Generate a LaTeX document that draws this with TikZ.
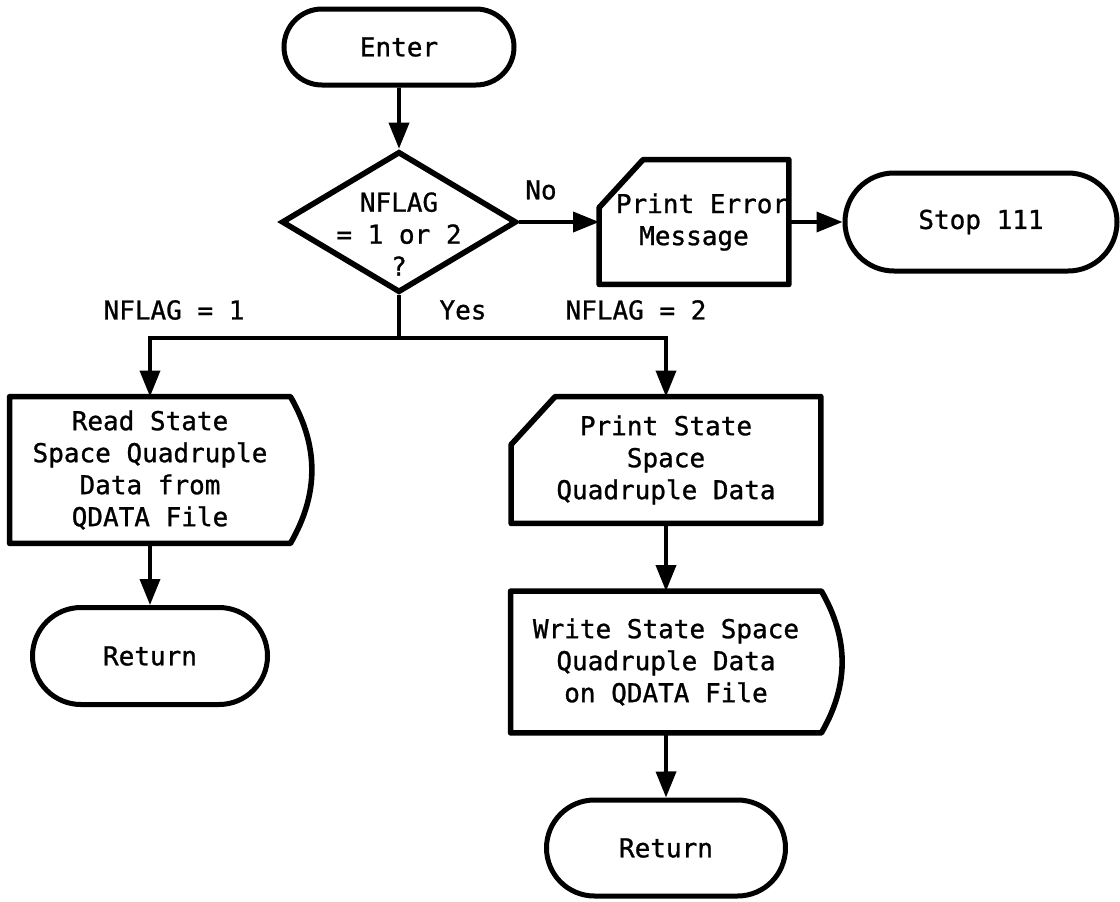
\documentclass[tikz,border=0pt]{standalone}
\usepackage{fontspec}
\setmonofont[FakeBold=1]{DejaVu Sans Mono}
\usepackage{tikz}
\usetikzlibrary{arrows.meta}
\usetikzlibrary{shapes}
\tikzset{
  chart/.style={font=\ttfamily\fontsize{13}{16}\selectfont, align=center},
  terminal/.style={chart, draw, line width=2.5pt, rounded rectangle, inner sep=0pt},
  decision/.style={draw, line width=2.8pt, diamond, inner sep=0pt},
  iobox/.style={chart, rectangle, inner sep=0pt},
  flow/.style={line width=1.8pt, -{Triangle[length=13pt,width=10pt]}},
  wire/.style={line width=1.8pt},
  tag/.style={chart}
}
\newcommand{\cardframe}[1]{ \draw[line width=2.8pt, line join=round] ([yshift=-24pt]#1.north west) -- ([xshift=22pt]#1.north west) -- (#1.north east) -- (#1.south east) -- (#1.south west) -- cycle;}
\newcommand{\storeframe}[1]{ \draw[line width=2.8pt, line join=round] (#1.north west) -- (#1.north east) to[bend left=30] (#1.south east) -- (#1.south west) -- cycle;}

\begin{document}
\begin{tikzpicture}[x=0.5pt,y=-0.5pt]
\useasboundingbox (0,0) rectangle (1120,901);
%
\node[terminal, minimum width=115pt, minimum height=38pt] (enter) at (399,47) {Enter};
\node[decision, minimum width=117.5pt, minimum height=70.5pt] (dec) at (399,222) {};
\node[chart] (dectext) at (399,234) {NFLAG\\= 1 or 2\\?};
\node[iobox, minimum width=94.5pt, minimum height=62pt] (err) at (694,222) {\hspace*{8pt}Print Error\\Message};
\node[terminal, minimum width=136pt, minimum height=49pt] (stop) at (981,222) {Stop 111};
%
\node[tag] (no) at (541,190) {No};
\node[tag] (nflag1) at (174,310) {NFLAG = 1};
\node[tag] (yes) at (463,310) {Yes};
\node[tag] (nflag2) at (636,310) {NFLAG = 2};
\coordinate (split) at (399,338);
%
\node[iobox, minimum width=140pt, minimum height=73pt] (read) at (150,470) {Read State\\Space Quadruple\\Data from\\QDATA File};
\node[terminal, minimum width=117.5pt, minimum height=48.5pt] (ret1) at (150,656) {Return};
%
\node[iobox, minimum width=154.5pt, minimum height=63pt] (prnt) at (666,460) {Print State\\Space\\Quadruple Data};
\node[iobox, minimum width=155pt, minimum height=70.5pt] (wrt) at (666,662) {Write State Space\\Quadruple Data\\on QDATA File};
\node[terminal, minimum width=119.5pt, minimum height=48pt] (ret2) at (666,848) {Return};
%
\cardframe{err}
\cardframe{prnt}
\storeframe{read}
\storeframe{wrt}
%
\draw[flow] (enter) -- (dec);
\draw[flow] (dec) -- (err);
\draw[flow] (err) -- (stop);
\draw[wire] (dec) -- (split);
\draw[flow] (split) -| (read);
\draw[flow] (split) -| (prnt);
\draw[flow] (read) -- (ret1);
\draw[flow] (prnt) -- (wrt);
\draw[flow] (wrt) -- (ret2);

\end{tikzpicture}
\end{document}
